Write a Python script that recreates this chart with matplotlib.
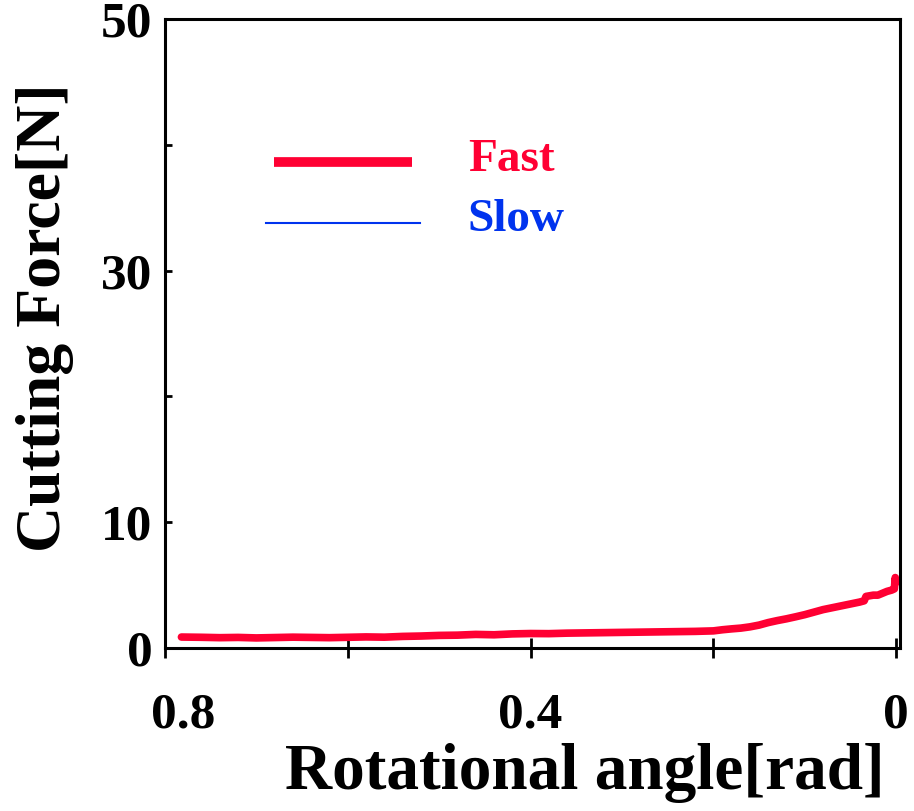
import matplotlib.pyplot as plt
from matplotlib.transforms import ScaledTranslation

# cutting force vs rotational angle (fast cut)
angle_fast = [0.782, 0.76, 0.74, 0.72, 0.70, 0.68, 0.66, 0.64, 0.62, 0.60,
              0.58, 0.56, 0.54, 0.52, 0.50, 0.48, 0.46, 0.44, 0.42, 0.40,
              0.38, 0.36, 0.34, 0.32, 0.30, 0.28, 0.26, 0.24, 0.22, 0.20,
              0.19, 0.18, 0.17, 0.16, 0.15, 0.14, 0.13, 0.12, 0.11, 0.10,
              0.09, 0.08, 0.07, 0.06, 0.05, 0.04, 0.035, 0.033, 0.025, 0.02,
              0.015, 0.01, 0.005, 0.002, 0.001, 0.0005]
force_fast = [0.87, 0.85, 0.82, 0.84, 0.80, 0.83, 0.86, 0.84, 0.82, 0.85,
              0.88, 0.86, 0.92, 0.95, 1.00, 1.02, 1.08, 1.05, 1.12, 1.15,
              1.14, 1.18, 1.20, 1.22, 1.24, 1.26, 1.28, 1.30, 1.32, 1.36,
              1.45, 1.52, 1.58, 1.68, 1.82, 2.02, 2.18, 2.32, 2.48, 2.65,
              2.85, 3.05, 3.20, 3.35, 3.50, 3.65, 3.75, 4.10, 4.20, 4.20,
              4.35, 4.50, 4.60, 4.70, 5.60, 5.20]

yticks = [0, 10, 20, 30, 40, 50]
ytick_labels = ['0', '10', '', '30', '', '50']
xticks = [0.8, 0.6, 0.4, 0.2, 0.0]
xtick_labels = ['0.8', '', '0.4', '', '0']

red = '#ff0033'
blue = '#0033ee'
font = 'Liberation Serif'

fig = plt.figure(figsize=(9.14, 8.11), dpi=100)
ax = fig.add_axes([0.1805, 0.201, 0.804, 0.7756])

ax.plot(angle_fast, force_fast, color=red, lw=5.5, solid_capstyle='round')

ax.set_xlim(0.8, -0.004)
ax.set_ylim(0, 49.8)
ax.set_yticks(yticks)
ax.set_yticklabels(ytick_labels)
ax.set_xticks(xticks)
ax.set_xticklabels(xtick_labels)
ax.tick_params(axis='y', direction='in', length=5, width=2, pad=9)
ax.tick_params(axis='x', direction='inout', length=14, width=2, pad=25)
for lab in ax.get_xticklabels() + ax.get_yticklabels():
    lab.set_fontfamily(font)
    lab.set_fontweight('bold')
    lab.set_fontsize(37)
# first x label sits a little right of its tick
first = ax.get_xticklabels()[0]
first.set_transform(first.get_transform() + ScaledTranslation(0.18, 0, fig.dpi_scale_trans))
for s in ax.spines.values():
    s.set_linewidth(2.2)

# legend drawn by hand
ax.plot([0.148, 0.336], [0.773, 0.773], color=red, lw=7, transform=ax.transAxes,
        solid_capstyle='butt')
ax.plot([0.137, 0.347], [0.676, 0.676], color=blue, lw=1.5, transform=ax.transAxes)
ax.text(0.412, 0.776, 'Fast', color=red, transform=ax.transAxes, va='center',
        ha='left', fontsize=34, fontweight='bold', family=font)
ax.text(0.412, 0.680, 'Slow', color=blue, transform=ax.transAxes, va='center',
        ha='left', fontsize=34, fontweight='bold', family=font)

fig.text(45 / 914, 1 - 318 / 811, 'Cutting Force[N]', rotation=90, ha='center',
         va='center', fontsize=46, fontweight='bold', family=font)
fig.text(585 / 914, 1 - 773 / 811, 'Rotational angle[rad]', ha='center',
         va='center', fontsize=47, fontweight='bold', family=font)

fig.savefig('out.png', dpi=100)
